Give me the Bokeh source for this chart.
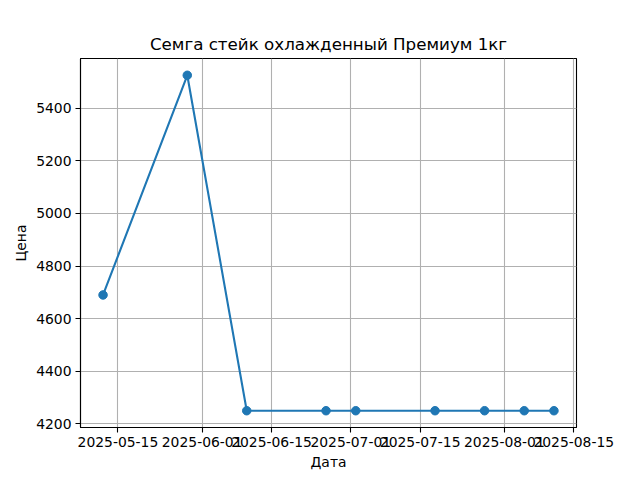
import pandas as pd
from bokeh.plotting import figure
from bokeh.models import Range1d, FixedTicker, DatetimeTickFormatter
from bokeh.embed import file_html
from bokeh.resources import INLINE

dates = ["2025-05-12", "2025-05-29", "2025-06-10", "2025-06-26", "2025-07-02",
         "2025-07-18", "2025-07-28", "2025-08-05", "2025-08-11"]
prices = [4690, 5525, 4250, 4250, 4250, 4250, 4250, 4250, 4250]
x_ticks = ["2025-05-15", "2025-06-01", "2025-06-15", "2025-07-01",
           "2025-07-15", "2025-08-01", "2025-08-15"]
y_ticks = [4200, 4400, 4600, 4800, 5000, 5200, 5400]
title = "Семга стейк охлажденный Премиум 1кг"
x_label = "Дата"
y_label = "Цена"

xd = pd.to_datetime(dates)
xmin, xmax = xd.min(), xd.max()
xpad = (xmax - xmin) * 0.05
ymin, ymax = min(prices), max(prices)
ypad = (ymax - ymin) * 0.05

FONT = "DejaVu Sans"
p = figure(width=640, height=480, x_axis_type="datetime",
           output_backend="svg", toolbar_location=None,
           x_range=Range1d(xmin - xpad, xmax + xpad),
           y_range=Range1d(ymin - ypad, ymax + ypad),
           min_border_left=80, min_border_right=64,
           min_border_top=58, min_border_bottom=53)

p.title.text = title
p.title.align = "center"
p.title.text_font = FONT
p.title.text_font_size = "16.7px"
p.title.text_font_style = "normal"
p.title.text_color = "black"
p.title.offset = 0
p.title.standoff = 9

p.outline_line_color = "black"
p.outline_line_width = 1.1
p.outline_line_alpha = 1.0
p.background_fill_color = "white"
p.border_fill_color = "white"

tick_ms = [pd.Timestamp(t).value // 10**6 for t in x_ticks]
p.xaxis.ticker = FixedTicker(ticks=tick_ms)
fmt = "%Y-%m-%d"
p.xaxis.formatter = DatetimeTickFormatter(
    milliseconds=fmt, seconds=fmt, minsec=fmt, minutes=fmt, hourmin=fmt,
    hours=fmt, days=fmt, months=fmt, years=fmt)
p.yaxis.ticker = FixedTicker(ticks=y_ticks)

for ax in (p.xaxis, p.yaxis):
    ax.major_label_text_font = FONT
    ax.major_label_text_font_size = "13.9px"
    ax.major_label_text_color = "black"
    ax.axis_label_text_font = FONT
    ax.axis_label_text_font_size = "13.9px"
    ax.axis_label_text_font_style = "normal"
    ax.axis_label_text_color = "black"
    ax.axis_line_color = "black"
    ax.axis_line_width = 1.1
    ax.major_tick_line_color = "black"
    ax.major_tick_line_width = 1.1
    ax.major_tick_out = 5
    ax.major_tick_in = 0
    ax.minor_tick_line_color = None
    ax.major_label_standoff = 4
    ax.axis_label_standoff = 4

p.xaxis.axis_label = x_label
p.yaxis.axis_label = y_label

for g in (p.xgrid, p.ygrid):
    g.grid_line_color = "#b0b0b0"
    g.grid_line_width = 1.1
p.xgrid.ticker = p.xaxis.ticker
p.ygrid.ticker = p.yaxis.ticker

p.line(xd, prices, line_color="#1f77b4", line_width=2.1)
p.scatter(xd, prices, size=8.5, fill_color="#1f77b4", line_color="#1f77b4")

open("out.html", "w").write(file_html(p, INLINE))
